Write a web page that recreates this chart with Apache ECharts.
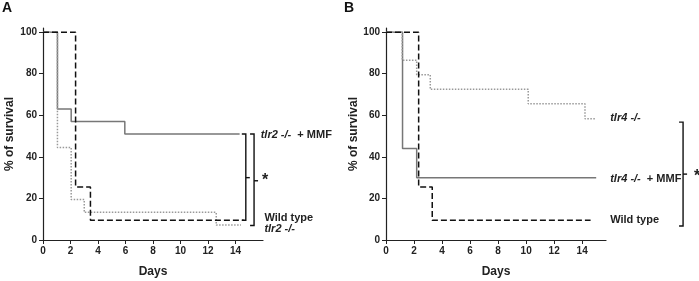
<!DOCTYPE html>
<html>
<head>
<meta charset="utf-8">
<script src="https://cdn.jsdelivr.net/npm/echarts@6/dist/echarts.min.js"></script>
<style>
  html, body { margin: 0; padding: 0; background: #fff; }
  #chart { width: 699px; height: 281px; }
</style>
</head>
<body>
<div id="chart"></div>
<script>
// survival data, days vs % alive
var daysMmfA = [0, 1.05, 2.05, 5.95, 14.3];
var survMmfA = [100, 63, 57, 51, 51];
var daysWtA = [0, 2.37, 3.45, 14.6];
var survWtA = [100, 25.5, 9.5, 9.5];
var daysKoA = [0, 1.05, 2.05, 3.0, 12.6, 14.4];
var survKoA = [100, 44.5, 19.5, 13.3, 7.2, 7.2];

var daysMmfB = [0, 1.18, 2.19, 15.0];
var survMmfB = [100, 44, 30, 30];
var daysWtB = [0, 2.33, 3.3, 14.6];
var survWtB = [100, 25.5, 9.5, 9.5];
var daysKoB = [0, 1.16, 2.19, 3.16, 10.15, 14.2, 15.0];
var survKoB = [100, 86.5, 79.5, 72.5, 65.5, 58.3, 58.3];

var yTicks = [0, 20, 40, 60, 80, 100];

function pairs(xs, ys) {
  return xs.map(function (x, i) { return [x, ys[i]]; });
}

var myChart = echarts.init(document.getElementById('chart'));
var font = 'Liberation Sans, Arial, sans-serif';

function xAxisOf(idx, max) {
  return {
    type: 'value', gridIndex: idx, min: 0, max: max, interval: 2,
    name: 'Days', nameLocation: 'middle', nameGap: 26,
    nameTextStyle: { fontFamily: font, fontWeight: 'bold', fontSize: 12, color: '#222' },
    axisLine: { lineStyle: { color: '#222', width: 1.2 } },
    axisTick: { show: true, length: 4, lineStyle: { color: '#222' } },
    axisLabel: { showMaxLabel: false, margin: 6, fontFamily: font, fontWeight: 'bold', fontSize: 10, color: '#222' },
    splitLine: { show: false }
  };
}
function yAxisOf(idx, gap) {
  return {
    type: 'value', gridIndex: idx, min: 0, max: 102, interval: 20,
    name: '% of survival', nameLocation: 'middle', nameGap: gap, nameRotate: 90,
    nameTextStyle: { fontFamily: font, fontWeight: 'bold', fontSize: 12, color: '#222' },
    axisLine: { show: true, lineStyle: { color: '#222', width: 1.2 } },
    axisTick: { show: true, length: 4, lineStyle: { color: '#222' } },
    axisLabel: {
      showMaxLabel: false, margin: 6, fontFamily: font, fontWeight: 'bold', fontSize: 10, color: '#222',
      formatter: function (v) { return yTicks.indexOf(v) >= 0 ? String(v) : ''; }
    },
    splitLine: { show: false }
  };
}

var solid = { color: '#777', width: 1.5, type: 'solid' };
var dash = { color: '#111', width: 1.5, type: [6, 3] };
var dot = { color: '#999', width: 1.5, type: [1.5, 1.5] };

function curve(name, idx, data, style) {
  return {
    name: name, type: 'line', step: 'end', xAxisIndex: idx, yAxisIndex: idx,
    data: data, showSymbol: false, symbol: 'none', lineStyle: style,
    clip: false, silent: true, animation: false, z: style === dash ? 3 : 2
  };
}

myChart.setOption({
  animation: false,
  grid: [
    { left: 43, top: 28, width: 220, height: 212, containLabel: false, outerBoundsMode: 'none' },
    { left: 386, top: 28, width: 220, height: 212, containLabel: false, outerBoundsMode: 'none' }
  ],
  xAxis: [xAxisOf(0, 16), xAxisOf(1, 15.7)],
  yAxis: [yAxisOf(0, 27), yAxisOf(1, 24)],
  series: [
    curve('tlr2 -/- + MMF', 0, pairs(daysMmfA, survMmfA), solid),
    curve('tlr2 -/-', 0, pairs(daysKoA, survKoA), dot),
    curve('Wild type A', 0, pairs(daysWtA, survWtA), dash),
    curve('tlr4 -/- + MMF', 1, pairs(daysMmfB, survMmfB), solid),
    curve('tlr4 -/-', 1, pairs(daysKoB, survKoB), dot),
    curve('Wild type B', 1, pairs(daysWtB, survWtB), dash)
  ]
});

// annotations placed in data units, converted to pixels
function px(g, x, y) { return myChart.convertToPixel({ gridIndex: g }, [x, y]); }

function bracket(g, x, yTop, yBot, yMid, hook, tick) {
  var a = px(g, x, yTop), b = px(g, x, yBot), m = px(g, x, yMid);
  var st = { stroke: '#111', lineWidth: 1.4, fill: null };
  return [
    { type: 'polyline', shape: { points: [[a[0] - hook, a[1]], a, b, [b[0] - hook, b[1]]] }, style: st },
    { type: 'line', shape: { x1: m[0], y1: m[1], x2: m[0] + tick, y2: m[1] }, style: st }
  ];
}
function label(g, x, y, italicPart, plainPart) {
  var p = px(g, x, y);
  return {
    type: 'text', x: p[0], y: p[1],
    style: {
      text: (italicPart ? '{i|' + italicPart + '}' : '') + (plainPart ? '{b|' + plainPart + '}' : ''),
      verticalAlign: 'middle', align: 'left',
      rich: {
        i: { fontFamily: font, fontStyle: 'italic', fontWeight: 'bold', fontSize: 11, fill: '#222' },
        b: { fontFamily: font, fontWeight: 'bold', fontSize: 11, fill: '#222' }
      }
    }
  };
}
function star(g, x, y) {
  var p = px(g, x, y);
  return { type: 'text', x: p[0], y: p[1], style: { text: '*', fontFamily: font, fontWeight: 'bold', fontSize: 16, fill: '#222', align: 'center', verticalAlign: 'middle' } };
}

var graphics = [
  { type: 'text', left: 2, top: 1, style: { text: 'A', fontFamily: font, fontWeight: 'bold', fontSize: 14, fill: '#111' } },
  { type: 'text', left: 344, top: 1, style: { text: 'B', fontFamily: font, fontWeight: 'bold', fontSize: 14, fill: '#111' } },
  label(0, 15.83, 50.5, 'tlr2 -/-', '  + MMF'),
  label(0, 16.1, 10.8, '', 'Wild type'),
  label(0, 16.1, 5.2, 'tlr2 -/-', ''),
  star(0, 16.15, 28.5),
  label(1, 16.0, 58.6, 'tlr4 -/-', ''),
  label(1, 16.0, 29.3, 'tlr4 -/-', '  + MMF'),
  label(1, 16.0, 9.6, '', 'Wild type'),
  star(1, 22.2, 30.5)
];
graphics = graphics
  .concat(bracket(0, 14.75, 51, 9.5, 30, 4, 4))
  .concat(bracket(0, 15.35, 51, 7, 28.5, 4, 4))
  .concat(bracket(1, 21.2, 56.7, 6.7, 31.7, 4, 4));

myChart.setOption({ graphic: graphics });
</script>
</body>
</html>
